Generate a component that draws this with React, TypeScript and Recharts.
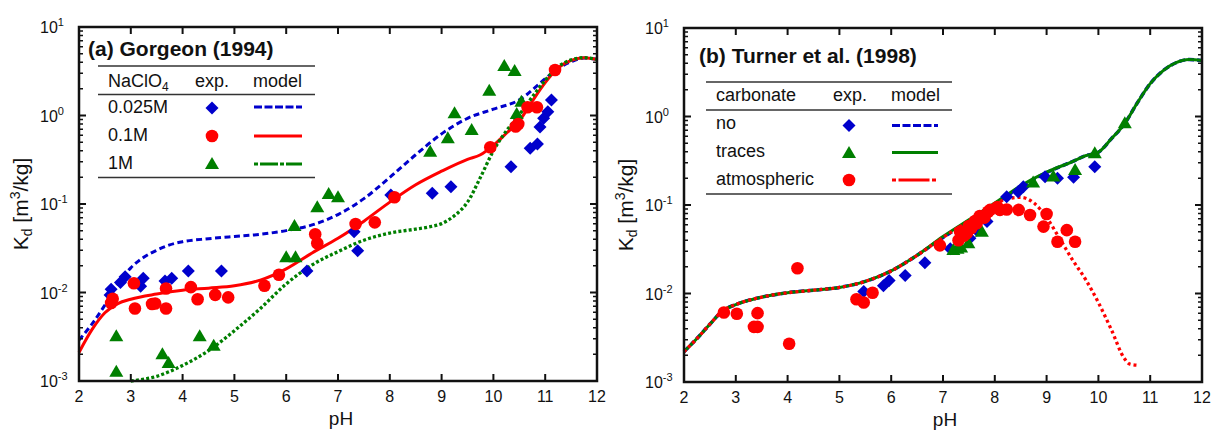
import { ComposedChart, Line, Scatter, XAxis, YAxis } from "recharts";

const FONT = "'Liberation Sans', Arial, Helvetica, sans-serif";
const BLUE = "#0000cc";
const RED = "#ff0000";
const GREEN = "#007f00";
const INK = "#111111";

// axes
const X_DOMAIN = [2, 12];
const Y_DOMAIN = [0.001, 10];
const X_TICKS = [2, 3, 4, 5, 6, 7, 8, 9, 10, 11, 12];
const Y_DECADES = [0.001, 0.01, 0.1, 1, 10];
const Y_MINOR = [2, 3, 4, 5, 6, 7, 8, 9];

// (a) Gorgeon (1994) – experimental points [pH, Kd]
const gorgeonExp025 = [
  [2.6, 0.0094], [2.62, 0.0109], [2.8, 0.013], [2.89, 0.0151], [3.19, 0.0118], [3.24, 0.0145],
  [3.66, 0.0135], [3.79, 0.0145], [4.11, 0.0175], [4.75, 0.0175], [6.4, 0.0175], [7.31, 0.0486],
  [7.38, 0.0297], [8.02, 0.126], [8.82, 0.132], [9.18, 0.157], [10.34, 0.264], [10.71, 0.426],
  [10.85, 0.476], [10.9, 0.74], [10.97, 0.93], [11.05, 1.1], [11.12, 1.5],
];
const gorgeonExp01 = [
  [2.62, 0.0076], [2.65, 0.0085], [3.06, 0.0127], [3.08, 0.0066], [3.41, 0.0074], [3.47, 0.0075],
  [3.68, 0.0111], [3.68, 0.0066], [4.16, 0.0115], [4.29, 0.0084], [4.63, 0.0094], [4.88, 0.0088],
  [5.58, 0.0119], [5.86, 0.0159], [6.56, 0.0455], [6.6, 0.036], [7.34, 0.0594], [7.71, 0.062],
  [8.09, 0.119], [9.94, 0.438], [10.43, 0.75], [10.48, 0.8], [10.66, 1.24], [10.84, 1.24], [11.19, 3.27],
];
const gorgeonExp1 = [
  [2.72, 0.00127], [2.72, 0.0032], [3.61, 0.002], [3.73, 0.0016], [4.33, 0.0032], [4.6, 0.0025],
  [6.0, 0.025], [6.18, 0.025], [6.16, 0.0564], [6.6, 0.092], [6.82, 0.13], [7.0, 0.119],
  [8.78, 0.39], [9.12, 0.552], [9.25, 1.06], [9.58, 0.686], [9.92, 1.91], [10.21, 3.62],
  [10.41, 3.19], [10.45, 1.04], [10.54, 1.43],
];
// (a) model curves
const gorgeonModel025 = [
  [2.0, 0.0029], [2.25, 0.0044], [2.5, 0.0072], [2.75, 0.0125], [3.0, 0.019], [3.25, 0.025],
  [3.5, 0.03], [3.75, 0.0345], [4.0, 0.0375], [4.5, 0.0405], [5.0, 0.043], [5.5, 0.0455],
  [6.0, 0.05], [6.5, 0.058], [7.0, 0.076], [7.5, 0.115], [8.0, 0.2], [8.5, 0.36], [9.0, 0.62],
  [9.5, 0.93], [10.0, 1.18], [10.5, 1.5], [11.0, 2.6], [11.25, 3.4], [11.5, 4.05], [11.75, 4.45], [12.0, 4.3],
];
const gorgeonModel01 = [
  [2.0, 0.0021], [2.25, 0.0038], [2.5, 0.0059], [2.75, 0.0075], [3.0, 0.0084], [3.5, 0.0096],
  [4.0, 0.0106], [4.5, 0.0112], [5.0, 0.0119], [5.5, 0.0138], [6.0, 0.0185], [6.5, 0.028],
  [7.0, 0.041], [7.5, 0.064], [8.0, 0.105], [8.5, 0.165], [9.0, 0.235], [9.5, 0.32], [9.75, 0.36],
  [10.0, 0.46], [10.25, 0.63], [10.5, 0.87], [10.75, 1.45], [11.0, 2.35], [11.25, 3.45],
  [11.5, 4.2], [11.75, 4.5], [12.0, 4.3],
];
const gorgeonModel1 = [
  [3.0, 0.001], [3.5, 0.00113], [4.0, 0.0015], [4.5, 0.0022], [5.0, 0.0037], [5.5, 0.0066],
  [6.0, 0.0125], [6.5, 0.0205], [7.0, 0.029], [7.5, 0.039], [8.0, 0.047], [8.5, 0.052],
  [8.75, 0.055], [9.0, 0.06], [9.25, 0.074], [9.5, 0.105], [9.75, 0.2], [10.0, 0.4], [10.25, 0.67],
  [10.5, 1.02], [10.75, 1.62], [11.0, 2.5], [11.25, 3.55], [11.5, 4.25], [11.75, 4.5], [12.0, 4.3],
];

// (b) Turner et al. (1998) – experimental points
const turnerExpNo = [
  [5.47, 0.0105], [5.85, 0.0122], [5.96, 0.014], [6.27, 0.016], [6.65, 0.0223], [7.14, 0.032],
  [7.52, 0.042], [7.65, 0.052], [7.85, 0.065], [8.05, 0.09], [8.23, 0.124], [8.45, 0.141],
  [8.55, 0.161], [8.97, 0.209], [9.21, 0.2], [9.52, 0.206], [9.93, 0.271],
];
const turnerExpTraces = [
  [7.2, 0.031], [7.28, 0.032], [7.35, 0.033], [7.49, 0.037], [7.75, 0.05], [8.74, 0.18],
  [9.13, 0.21], [9.55, 0.248], [9.93, 0.384], [10.51, 0.84],
];
const turnerExpAtm = [
  [2.77, 0.0061], [3.02, 0.0059], [3.35, 0.0042], [3.42, 0.0042], [3.42, 0.006], [4.03, 0.0027],
  [4.19, 0.0193], [5.33, 0.0086], [5.47, 0.0079], [5.64, 0.0102], [6.94, 0.035], [7.3, 0.04],
  [7.33, 0.05], [7.4, 0.045], [7.46, 0.048], [7.5, 0.058], [7.55, 0.055], [7.62, 0.066],
  [7.65, 0.062], [7.71, 0.075], [7.8, 0.072], [7.87, 0.084], [7.91, 0.088], [8.05, 0.095],
  [8.1, 0.088], [8.23, 0.089], [8.46, 0.088], [8.68, 0.077], [8.94, 0.057], [9.0, 0.079],
  [9.21, 0.0385], [9.39, 0.052], [9.55, 0.0385],
];
// (b) model curves
const turnerModelNo = [
  [2.0, 0.0022], [2.25, 0.0031], [2.5, 0.0045], [2.75, 0.0064], [3.0, 0.0075], [3.5, 0.0091],
  [4.0, 0.0102], [4.5, 0.0109], [5.0, 0.0117], [5.5, 0.0137], [6.0, 0.018], [6.5, 0.027],
  [7.0, 0.043], [7.5, 0.066], [8.0, 0.102], [8.5, 0.16], [9.0, 0.232], [9.5, 0.31], [9.75, 0.36],
  [10.0, 0.395], [10.25, 0.56], [10.5, 0.82], [10.75, 1.42], [11.0, 2.35], [11.25, 3.3],
  [11.5, 4.05], [11.75, 4.4], [12.0, 4.3],
];
const turnerModelTraces = [
  [2.0, 0.0022], [2.25, 0.0031], [2.5, 0.0045], [2.75, 0.0064], [3.0, 0.0075], [3.5, 0.0091],
  [4.0, 0.0102], [4.5, 0.0109], [5.0, 0.0117], [5.5, 0.0137], [6.0, 0.018], [6.5, 0.027],
  [7.0, 0.044], [7.5, 0.068], [8.0, 0.105], [8.5, 0.165], [9.0, 0.235], [9.5, 0.31], [9.75, 0.36],
  [10.0, 0.395], [10.25, 0.56], [10.5, 0.82], [10.75, 1.42], [11.0, 2.35], [11.25, 3.3],
  [11.5, 4.05], [11.75, 4.4], [12.0, 4.3],
];
const turnerModelAtm = [
  [2.0, 0.0022], [2.25, 0.0031], [2.5, 0.0045], [2.75, 0.0064], [3.0, 0.0075], [3.5, 0.0091],
  [4.0, 0.0102], [4.5, 0.0109], [5.0, 0.0117], [5.5, 0.0137], [6.0, 0.018], [6.5, 0.027],
  [7.0, 0.043], [7.5, 0.066], [8.0, 0.102], [8.25, 0.118], [8.5, 0.122], [8.75, 0.106],
  [9.0, 0.072], [9.25, 0.042], [9.5, 0.024], [9.75, 0.0145], [10.0, 0.0079], [10.25, 0.0039],
  [10.5, 0.00185], [10.6, 0.0016], [10.75, 0.00155],
];

const pts = (arr: number[][]) => arr.map(([x, y]) => ({ x, y }));

const isDecade = (v: number) => Math.abs(Math.log10(v) - Math.round(Math.log10(v))) < 1e-6;

const Y_TICKS = Y_DECADES.slice(0, -1)
  .flatMap((d) => [d, ...Y_MINOR.map((m) => +(d * m).toPrecision(3))])
  .concat([Y_DOMAIN[1]]);

// chart geometry (same for both panels)
const W = 608;
const H = 432;
const MARGIN = { top: 27, right: 11, bottom: 11, left: 19 };
const PLOT = { left: 79, right: 597, top: 27, bottom: 381 };

const YLabelTick = (props: any) => {
  const { y, payload } = props;
  if (!isDecade(payload.value)) return <g />;
  const e = Math.round(Math.log10(payload.value));
  return (
    <text x={PLOT.left - 39} y={Number(y) + 6} fontSize={16} fontFamily={FONT} fill={INK}>
      10<tspan dy={-7} fontSize={11}>{e}</tspan>
    </text>
  );
};

const XLabelTick = (props: any) => {
  const { x, payload } = props;
  return (
    <text x={x} y={PLOT.bottom + 21} textAnchor="middle" fontSize={16} fontFamily={FONT} fill={INK}>
      {payload.value}
    </text>
  );
};

const diamond = (cx: number, cy: number) => (
  <polygon points={`${cx},${cy - 6.5} ${cx + 6.5},${cy} ${cx},${cy + 6.5} ${cx - 6.5},${cy}`} fill={BLUE} />
);
const circle = (cx: number, cy: number) => <circle cx={cx} cy={cy} r={6.3} fill={RED} />;
const triangle = (cx: number, cy: number) => (
  <polygon points={`${cx},${cy - 7} ${cx + 7},${cy + 5} ${cx - 7},${cy + 5}`} fill={GREEN} />
);

const DiamondShape = (p: any) => diamond(p.cx, p.cy);
const CircleShape = (p: any) => circle(p.cx, p.cy);
const TriangleShape = (p: any) => triangle(p.cx, p.cy);

type Model = { data: number[][]; color: string; dash?: string; width?: number };
type Exp = { data: number[][]; shape: (p: any) => any };

const Panel = ({ models, exps }: { models: Model[]; exps: Exp[] }) => (
  <ComposedChart width={W} height={H} margin={MARGIN}>
    <XAxis dataKey="x" type="number" domain={X_DOMAIN} ticks={X_TICKS} interval={0}
      height={40} axisLine={false} tickLine={false} tick={XLabelTick} />
    <YAxis dataKey="y" type="number" scale="log" domain={Y_DOMAIN} ticks={Y_TICKS} interval={0}
      width={60} axisLine={false} tickLine={false} tick={YLabelTick} />
    {models.map((m, i) => (
      <Line key={"m" + i} data={pts(m.data)} dataKey="y" type="monotone" stroke={m.color}
        strokeWidth={m.width ?? 3} strokeDasharray={m.dash} dot={false} isAnimationActive={false} />
    ))}
    {exps.map((e, i) => (
      <Scatter key={"e" + i} data={pts(e.data)} dataKey="y" shape={e.shape} isAnimationActive={false} />
    ))}
  </ComposedChart>
);

// box frame with inward ticks on all four sides, drawn over a panel placed at (ox, oy)
const Frame = ({ ox, oy }: { ox: number; oy: number }) => {
  const l = ox + PLOT.left;
  const r = ox + PLOT.right;
  const t = oy + PLOT.top;
  const b = oy + PLOT.bottom;
  const xs = (v: number) => l + ((v - X_DOMAIN[0]) / (X_DOMAIN[1] - X_DOMAIN[0])) * (r - l);
  const ys = (v: number) =>
    t + ((Math.log10(Y_DOMAIN[1]) - Math.log10(v)) / (Math.log10(Y_DOMAIN[1]) - Math.log10(Y_DOMAIN[0]))) * (b - t);
  return (
    <g>
      {X_TICKS.slice(1, -1).map((v) => (
        <path key={"x" + v} d={`M${xs(v)},${b}v-7M${xs(v)},${t}v7`} stroke={INK} strokeWidth={2} />
      ))}
      {Y_TICKS.slice(1, -1).map((v) => {
        const len = isDecade(v) ? 7 : 4;
        return (
          <path key={"y" + v} d={`M${l},${ys(v)}h${len}M${r},${ys(v)}h${-len}`} stroke={INK}
            strokeWidth={isDecade(v) ? 2 : 1.5} />
        );
      })}
      <rect x={l} y={t} width={r - l} height={b - t} fill="none" stroke={INK} strokeWidth={2.5} />
    </g>
  );
};

const txt = { fontFamily: FONT, fill: INK };

const YLabel = ({ x, y }: { x: number; y: number }) => (
  <text transform={`translate(${x},${y}) rotate(-90)`} textAnchor="middle" fontSize={21} {...txt}>
    K<tspan fontSize={14} dy={4}>d</tspan>
    <tspan dy={-4}> [m</tspan>
    <tspan fontSize={14} dy={-8}>3</tspan>
    <tspan dy={8}>/kg]</tspan>
  </text>
);

const Overlay = () => (
  <svg width={1216} height={432} style={{ position: "absolute", left: 0, top: 0, pointerEvents: "none" }}>
    <Frame ox={0} oy={0} />
    <Frame ox={605} oy={1} />

    {/* panel a */}
    <text x={88} y={56} fontSize={21} fontWeight="bold" {...txt}>(a) Gorgeon (1994)</text>
    <line x1={98} x2={315} y1={66} y2={66} stroke="#333" strokeWidth={1.5} />
    <line x1={98} x2={315} y1={94.5} y2={94.5} stroke="#333" strokeWidth={1.5} />
    <line x1={98} x2={315} y1={177.5} y2={177.5} stroke="#333" strokeWidth={1.5} />
    <text x={108} y={87} fontSize={18} {...txt}>NaClO<tspan fontSize={12} dy={4}>4</tspan></text>
    <text x={195} y={87} fontSize={18} {...txt}>exp.</text>
    <text x={253} y={87} fontSize={18} {...txt}>model</text>
    <text x={108} y={113} fontSize={18} {...txt}>0.025M</text>
    <text x={108} y={141} fontSize={18} {...txt}>0.1M</text>
    <text x={108} y={169} fontSize={18} {...txt}>1M</text>
    {diamond(212, 108)}
    {circle(212, 136)}
    {triangle(212, 164)}
    <line x1={254} x2={302} y1={107} y2={107} stroke={BLUE} strokeWidth={3} strokeDasharray="8 2.5" />
    <line x1={254} x2={302} y1={136} y2={136} stroke={RED} strokeWidth={3} />
    <line x1={254} x2={302} y1={164} y2={164} stroke={GREEN} strokeWidth={3} strokeDasharray="4 2 18 2" />
    <YLabel x={28} y={204} />
    <text x={341} y={425} textAnchor="middle" fontSize={19} {...txt}>pH</text>

    {/* panel b */}
    <text x={699} y={63} fontSize={21} fontWeight="bold" {...txt}>(b) Turner et al. (1998)</text>
    <line x1={706} x2={952} y1={82} y2={82} stroke="#333" strokeWidth={1.5} />
    <line x1={706} x2={952} y1={110} y2={110} stroke="#333" strokeWidth={1.5} />
    <line x1={706} x2={952} y1={194} y2={194} stroke="#333" strokeWidth={1.5} />
    <text x={716} y={101} fontSize={18} {...txt}>carbonate</text>
    <text x={833} y={101} fontSize={18} {...txt}>exp.</text>
    <text x={891} y={101} fontSize={18} {...txt}>model</text>
    <text x={716} y={129} fontSize={18} {...txt}>no</text>
    <text x={716} y={157} fontSize={18} {...txt}>traces</text>
    <text x={716} y={185} fontSize={18} {...txt}>atmospheric</text>
    {diamond(849, 125.5)}
    {triangle(849, 153)}
    {circle(849, 180)}
    <line x1={892} x2={938} y1={125.5} y2={125.5} stroke={BLUE} strokeWidth={3} strokeDasharray="8 2.5" />
    <line x1={892} x2={938} y1={152.5} y2={152.5} stroke={GREEN} strokeWidth={3} />
    <line x1={892} x2={938} y1={180} y2={180} stroke={RED} strokeWidth={3} strokeDasharray="4 2.5 31 2.5" />
    <YLabel x={633} y={205} />
    <text x={945} y={426} textAnchor="middle" fontSize={19} {...txt}>pH</text>
  </svg>
);

export default function App() {
  return (
    <div style={{ position: "absolute", left: 0, top: 0, width: 1216, height: 432, background: "#fff" }}>
      <div style={{ position: "absolute", left: 0, top: 0 }}>
        <Panel
          models={[
            { data: gorgeonModel025, color: BLUE, dash: "6 3.5" },
            { data: gorgeonModel01, color: RED },
            { data: gorgeonModel1, color: GREEN, dash: "3 2.2", width: 3.3 },
          ]}
          exps={[
            { data: gorgeonExp025, shape: DiamondShape },
            { data: gorgeonExp1, shape: TriangleShape },
            { data: gorgeonExp01, shape: CircleShape },
          ]}
        />
      </div>
      <div style={{ position: "absolute", left: 605, top: 1 }}>
        <Panel
          models={[
            { data: turnerModelNo, color: BLUE, dash: "6 3", width: 3.5 },
            { data: turnerModelTraces, color: GREEN, width: 3 },
            { data: turnerModelAtm, color: RED, dash: "3 3", width: 3.3 },
          ]}
          exps={[
            { data: turnerExpNo, shape: DiamondShape },
            { data: turnerExpTraces, shape: TriangleShape },
            { data: turnerExpAtm, shape: CircleShape },
          ]}
        />
      </div>
      <Overlay />
    </div>
  );
}
